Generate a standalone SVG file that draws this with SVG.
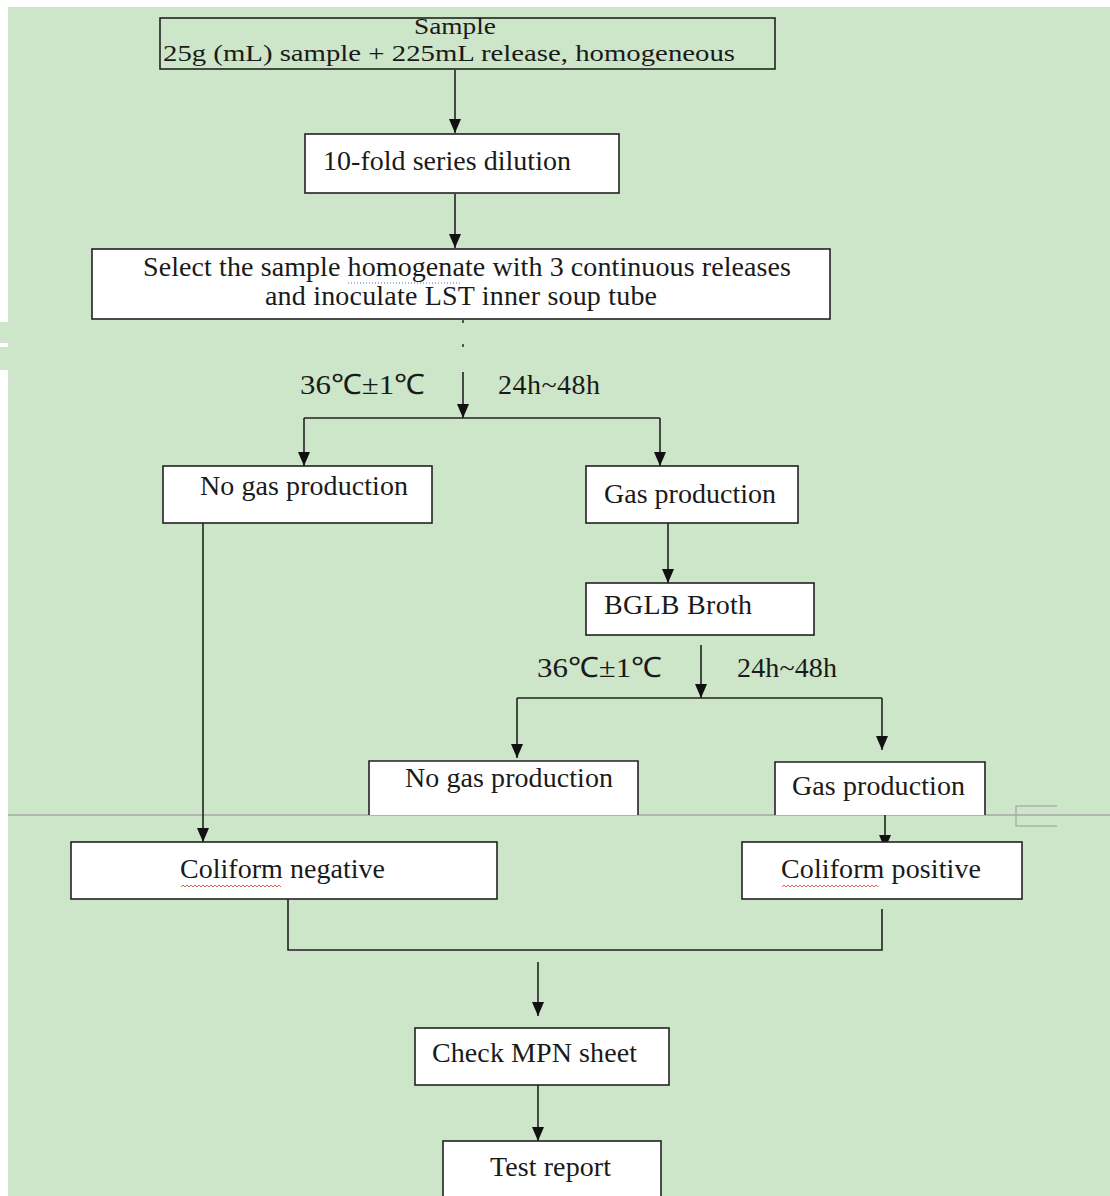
<svg xmlns="http://www.w3.org/2000/svg" width="1110" height="1196" viewBox="0 0 1110 1196">
<defs>
<marker id="ah" markerWidth="14" markerHeight="12" refX="14" refY="6" orient="auto" markerUnits="userSpaceOnUse" viewBox="0 0 14 12">
<path d="M0,0 L14,6 L0,12 Z" fill="#111"/>
</marker>
</defs>
<style>
.box{fill:#fff;stroke:#222;stroke-width:1.6}
.boxg{fill:none;stroke:#222;stroke-width:1.6}
.t{font-family:"Liberation Serif","Times New Roman",serif;font-size:28px;fill:#1a1a1a}
.s{font-size:24px}
.c{stroke:#222;stroke-width:1.6;fill:none}
.a{stroke:#222;stroke-width:1.6;fill:none;marker-end:url(#ah)}
</style>
<rect x="0" y="0" width="1110" height="1196" fill="#fff"/>
<rect x="8" y="7" width="1102" height="1189" fill="#cde5c8"/>
<rect x="0" y="322" width="8" height="21" fill="#cde5c8"/>
<rect x="0" y="347" width="8" height="23" fill="#cde5c8"/>
<line x1="8" y1="815" x2="1110" y2="815" stroke="#aeb6ad" stroke-width="2"/>
<path d="M1057,806 H1016 V826 H1057" fill="none" stroke="#a9b3a8" stroke-width="1.5"/>

<g id="connectors">
<line class="a" x1="455" y1="70" x2="455" y2="133"/>
<line class="a" x1="455" y1="194" x2="455" y2="248"/>
<rect x="462" y="320" width="2" height="3" fill="#555"/>
<rect x="462" y="344" width="2" height="3" fill="#555"/>
<line class="a" x1="463" y1="372" x2="463" y2="418"/>
<path class="c" d="M304,418 H660"/>
<line class="a" x1="304" y1="418" x2="304" y2="466"/>
<line class="a" x1="660" y1="418" x2="660" y2="466"/>
<line class="a" x1="203" y1="523" x2="203" y2="842"/>
<line class="a" x1="668" y1="523" x2="668" y2="583"/>
<line class="a" x1="701" y1="645" x2="701" y2="698"/>
<path class="c" d="M517,698 H882"/>
<line class="a" x1="517" y1="698" x2="517" y2="758"/>
<line class="a" x1="882" y1="698" x2="882" y2="750"/>
<line class="a" x1="885" y1="815" x2="885" y2="849"/>
<path class="c" d="M288,899 V950 H882 V909"/>
<line class="a" x1="538" y1="962" x2="538" y2="1016"/>
<line class="a" x1="538" y1="1085" x2="538" y2="1141"/>
</g>

<g id="n-sample">
<rect class="boxg" x="160" y="18" width="615" height="51"/>
<text class="t s" x="455" y="34" text-anchor="middle" textLength="82" lengthAdjust="spacingAndGlyphs">Sample</text>
<text class="t s" x="163" y="61" textLength="572" lengthAdjust="spacingAndGlyphs">25g (mL) sample + 225mL release, homogeneous</text>
</g>
<g id="n-dilution">
<rect class="box" x="305" y="134" width="314" height="59"/>
<text class="t" x="323" y="170" textLength="248">10-fold series dilution</text>
</g>
<g id="n-select">
<rect class="box" x="92" y="249" width="738" height="70"/>
<text class="t" x="143" y="276" textLength="648">Select the sample homogenate with 3 continuous releases</text>
<path d="M348,283 H462" stroke="#4a6fc0" stroke-width="1" stroke-dasharray="1,2"/>
<text class="t" x="265" y="305" textLength="392">and inoculate LST inner soup tube</text>
</g>
<g id="l-cond1">
<text class="t" x="300" y="394" textLength="125" lengthAdjust="spacingAndGlyphs">36℃±1℃</text>
<text class="t" x="498" y="394" textLength="102">24h~48h</text>
</g>
<g id="n-nogas1">
<rect class="box" x="163" y="466" width="269" height="57"/>
<text class="t" x="200" y="495" textLength="208">No gas production</text>
</g>
<g id="n-gas1">
<rect class="box" x="586" y="466" width="212" height="57"/>
<text class="t" x="604" y="503" textLength="172">Gas production</text>
</g>
<g id="n-bglb">
<rect class="box" x="586" y="583" width="228" height="52"/>
<text class="t" x="604" y="614" textLength="148">BGLB Broth</text>
</g>
<g id="l-cond2">
<text class="t" x="537" y="677" textLength="125" lengthAdjust="spacingAndGlyphs">36℃±1℃</text>
<text class="t" x="737" y="677" textLength="100">24h~48h</text>
</g>
<g id="n-nogas2">
<path class="box" d="M369,815 V761 H638 V815"/>
<text class="t" x="405" y="787" textLength="208">No gas production</text>
</g>
<g id="n-gas2">
<path class="box" d="M775,815 V762 H985 V815"/>
<text class="t" x="792" y="795" textLength="173">Gas production</text>
</g>
<g id="n-negative">
<rect class="box" x="71" y="842" width="426" height="57"/>
<text class="t" x="180" y="878" textLength="205">Coliform negative</text>
<path d="M181,887 l2,-2 l2,2 l2,-2 l2,2 l2,-2 l2,2 l2,-2 l2,2 l2,-2 l2,2 l2,-2 l2,2 l2,-2 l2,2 l2,-2 l2,2 l2,-2 l2,2 l2,-2 l2,2 l2,-2 l2,2 l2,-2 l2,2 l2,-2 l2,2 l2,-2 l2,2 l2,-2 l2,2 l2,-2 l2,2 l2,-2 l2,2 l2,-2 l2,2 l2,-2 l2,2 l2,-2 l2,2 l2,-2 l2,2 l2,-2 l2,2 l2,-2 l2,2 l2,-2 l2,2 l2,-2 l2,2" fill="none" stroke="#d9503f" stroke-width="0.9"/>
</g>
<g id="n-positive">
<rect class="box" x="742" y="842" width="280" height="57"/>
<text class="t" x="781" y="878" textLength="200">Coliform positive</text>
<path d="M782,887 l2,-2 l2,2 l2,-2 l2,2 l2,-2 l2,2 l2,-2 l2,2 l2,-2 l2,2 l2,-2 l2,2 l2,-2 l2,2 l2,-2 l2,2 l2,-2 l2,2 l2,-2 l2,2 l2,-2 l2,2 l2,-2 l2,2 l2,-2 l2,2 l2,-2 l2,2 l2,-2 l2,2 l2,-2 l2,2 l2,-2 l2,2 l2,-2 l2,2 l2,-2 l2,2 l2,-2 l2,2 l2,-2 l2,2 l2,-2 l2,2 l2,-2 l2,2 l2,-2 l2,2" fill="none" stroke="#d9503f" stroke-width="0.9"/>
</g>
<g id="n-mpn">
<rect class="box" x="415" y="1028" width="254" height="57"/>
<text class="t" x="432" y="1062" textLength="205">Check MPN sheet</text>
</g>
<g id="n-report">
<rect class="box" x="443" y="1141" width="218" height="60"/>
<text class="t" x="490" y="1176" textLength="121">Test report</text>
</g>
</svg>
